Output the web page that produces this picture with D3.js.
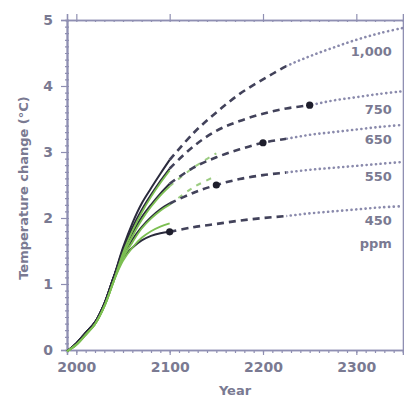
<!DOCTYPE html>
<html>
<head>
<meta charset="utf-8">
<script src="https://cdn.jsdelivr.net/npm/d3@7"></script>
<style>
  body { margin: 0; background: #fff; }
  text { font-family: "DejaVu Sans", sans-serif; font-weight: bold; fill: #7a7a92; }
</style>
</head>
<body>
<div id="chart"></div>
<script>
// ---- data ----
const scenarios = ['1,000', '750', '650', '550', '450'];

// 1990 - 2100 model runs (solid)
const solidYears = [1990, 2000, 2010, 2020, 2030, 2040, 2050, 2060, 2070, 2080, 2090, 2100];
const solid1000 = [-0.02, 0.1, 0.26, 0.42, 0.7, 1.1, 1.55, 1.92, 2.22, 2.45, 2.67, 2.88];
const solid750  = [-0.02, 0.1, 0.26, 0.42, 0.7, 1.1, 1.52, 1.85, 2.12, 2.35, 2.56, 2.75];
const solid650  = [-0.02, 0.1, 0.26, 0.42, 0.7, 1.1, 1.49, 1.77, 2.01, 2.20, 2.37, 2.52];
const solid550  = [-0.02, 0.1, 0.26, 0.42, 0.7, 1.1, 1.45, 1.67, 1.86, 2.01, 2.13, 2.22];
const solid450  = [-0.02, 0.1, 0.26, 0.42, 0.7, 1.1, 1.40, 1.55, 1.66, 1.73, 1.77, 1.79];

// green runs
const green1000 = [-0.02, 0.08, 0.23, 0.39, 0.66, 1.04, 1.47, 1.80, 2.08, 2.32, 2.53, 2.72];
const green750  = [-0.02, 0.08, 0.23, 0.39, 0.66, 1.04, 1.43, 1.72, 1.97, 2.17, 2.34, 2.48];
const green650  = [-0.02, 0.08, 0.23, 0.39, 0.66, 1.04, 1.39, 1.63, 1.84, 1.99, 2.11, 2.20];
const green550  = [-0.02, 0.08, 0.23, 0.39, 0.66, 1.04, 1.35, 1.55, 1.70, 1.80, 1.87, 1.92];
const greenDashYears = [2100, 2125, 2150];
const greenDash750 = [2.48, 2.76, 2.98];
const greenDash650 = [2.20, 2.46, 2.64];

// 2100 - 2350 continuation (dashed, then dotted)
const contYears = [2100, 2125, 2150, 2175, 2200, 2225, 2250, 2275, 2300, 2325, 2350];
const cont1000 = [2.88, 3.28, 3.60, 3.88, 4.10, 4.30, 4.45, 4.58, 4.70, 4.80, 4.88];
const cont750  = [2.75, 3.08, 3.32, 3.47, 3.58, 3.66, 3.71, 3.78, 3.83, 3.88, 3.92];
const cont650  = [2.52, 2.76, 2.92, 3.04, 3.14, 3.20, 3.26, 3.30, 3.34, 3.38, 3.41];
const cont550  = [2.22, 2.38, 2.50, 2.59, 2.65, 2.69, 2.73, 2.76, 2.79, 2.82, 2.85];
const cont450  = [1.79, 1.86, 1.91, 1.96, 2.00, 2.03, 2.07, 2.10, 2.13, 2.16, 2.18];

const dashEndYears = [2225, 2250, 2225, 2225, 2225];
const stabYears = [null, 2250, 2200, 2150, 2100];   // dot markers
const labelValues = [4.45, 3.58, 3.12, 2.56, 1.89];

const yTicks = [0, 1, 2, 3, 4, 5];
const xTicks = [2000, 2100, 2200, 2300];

// ---- layout ----
const width = 404, height = 398;
const x = d3.scaleLinear().domain([1990, 2350]).range([67, 403]);
const y = d3.scaleLinear().domain([0, 5]).range([350, 20]);

const svg = d3.select('#chart').append('svg')
  .attr('width', width).attr('height', height);

const axisColor = '#8f8fb2';

function styleAxis(g) {
  g.selectAll('path.domain').attr('stroke', axisColor).attr('stroke-width', 1.6);
  g.selectAll('.tick line').attr('stroke', axisColor).attr('stroke-width', 1.2);
  g.selectAll('text').attr('font-size', 14).attr('fill', '#7a7a92')
    .attr('font-family', 'DejaVu Sans').attr('font-weight', 'bold');
}

// minor ticks
svg.append('g').attr('transform', `translate(${x(1990)},0)`)
  .call(d3.axisLeft(y).tickValues(d3.range(0, 5.01, 0.1)).tickSize(2).tickFormat(''))
  .call(styleAxis);
svg.append('g').attr('transform', `translate(${x(1990)},0)`)
  .call(d3.axisRight(y).tickValues(d3.range(0, 5.01, 0.1)).tickSize(2).tickFormat(''))
  .call(styleAxis);
svg.append('g').attr('transform', `translate(0,${y(0)})`)
  .call(d3.axisBottom(x).tickValues(d3.range(1990, 2351, 10)).tickSize(3).tickFormat(''))
  .call(styleAxis);
svg.append('g').attr('transform', `translate(0,${y(5)})`)
  .call(d3.axisBottom(x).tickValues(d3.range(1990, 2351, 10)).tickSize(2).tickFormat(''))
  .call(styleAxis);

// major axes
svg.append('g').attr('transform', `translate(${x(1990)},0)`)
  .call(d3.axisLeft(y).tickValues(yTicks).tickSize(6).tickPadding(8).tickFormat(d3.format('d')))
  .call(styleAxis);
svg.append('g').attr('transform', `translate(0,${y(0)})`)
  .call(d3.axisBottom(x).tickValues(xTicks).tickSize(5).tickPadding(7).tickFormat(d3.format('d')))
  .call(styleAxis);
svg.append('g').attr('transform', `translate(0,${y(5)})`)
  .call(d3.axisTop(x).tickValues(xTicks).tickSize(6).tickFormat(''))
  .call(styleAxis);
svg.append('g').attr('transform', `translate(${x(2350)},0)`)
  .call(d3.axisRight(y).tickValues([]).tickSize(0))
  .call(styleAxis);

// axis titles
svg.append('text')
  .attr('transform', `translate(28,${(y(0) + y(5)) / 2 + 3}) rotate(-90)`)
  .attr('text-anchor', 'middle').attr('font-size', 13)
  .attr('font-family', 'Liberation Sans')
  .text('Temperature change (°C)');
svg.append('text')
  .attr('x', (x(1990) + x(2350)) / 2).attr('y', 395)
  .attr('text-anchor', 'middle').attr('font-size', 13)
  .text('Year');

const line = d3.line().x(d => x(d[0])).y(d => y(d[1])).curve(d3.curveCatmullRom.alpha(0.5));
const zip = (xs, ys) => xs.map((v, i) => [v, ys[i]]);

const solids = [solid1000, solid750, solid650, solid550, solid450];
const greens = [green1000, green750, green650, green550];
const conts = [cont1000, cont750, cont650, cont550, cont450];

// clip paths for dashed / dotted parts
const defs = svg.append('defs');
dashEndYears.forEach((yr, i) => {
  defs.append('clipPath').attr('id', 'dash' + i)
    .append('rect').attr('x', x(2100) - 2).attr('y', 0)
    .attr('width', x(yr) - x(2100) + 2).attr('height', height);
  defs.append('clipPath').attr('id', 'dot' + i)
    .append('rect').attr('x', x(yr)).attr('y', 0)
    .attr('width', width - x(yr)).attr('height', height);
});

// dotted tails
conts.forEach((c, i) => {
  svg.append('path').datum(zip(contYears, c))
    .attr('d', line).attr('fill', 'none')
    .attr('stroke', '#8a8aac').attr('stroke-width', 2.6)
    .attr('stroke-linecap', 'round').attr('stroke-dasharray', '0.1,4.6')
    .attr('clip-path', `url(#dot${i})`);
});

// green dashed
[greenDash750, greenDash650].forEach(g => {
  svg.append('path').datum(zip(greenDashYears, g))
    .attr('d', line).attr('fill', 'none')
    .attr('stroke', '#9ccc82').attr('stroke-width', 2)
    .attr('stroke-dasharray', '5,6');
});

// dashed continuation
conts.forEach((c, i) => {
  svg.append('path').datum(zip(contYears, c))
    .attr('d', line).attr('fill', 'none')
    .attr('stroke', '#42425a').attr('stroke-width', 2.6)
    .attr('stroke-dasharray', '7,5')
    .attr('clip-path', `url(#dash${i})`);
});

// solid black runs
solids.forEach(s => {
  svg.append('path').datum(zip(solidYears, s))
    .attr('d', line).attr('fill', 'none')
    .attr('stroke', '#2a2a3c').attr('stroke-width', 2);
});

// green runs
greens.forEach(g => {
  svg.append('path').datum(zip(solidYears, g))
    .attr('d', line).attr('fill', 'none')
    .attr('stroke', '#7cbf52').attr('stroke-width', 1.8);
});

// stabilisation dots
stabYears.forEach((yr, i) => {
  if (yr === null) return;
  const v = conts[i][contYears.indexOf(yr)];
  svg.append('circle').attr('cx', x(yr)).attr('cy', y(v)).attr('r', 3.6)
    .attr('fill', '#1e1e2c');
});

// scenario labels
scenarios.forEach((s, i) => {
  svg.append('text')
    .attr('x', x(2338)).attr('y', y(labelValues[i]))
    .attr('text-anchor', 'end').attr('font-size', 13)
    .text(s);
});
svg.append('text')
  .attr('x', x(2338)).attr('y', y(labelValues[4] - 0.34))
  .attr('text-anchor', 'end').attr('font-size', 13)
  .text('ppm');
</script>
</body>
</html>
